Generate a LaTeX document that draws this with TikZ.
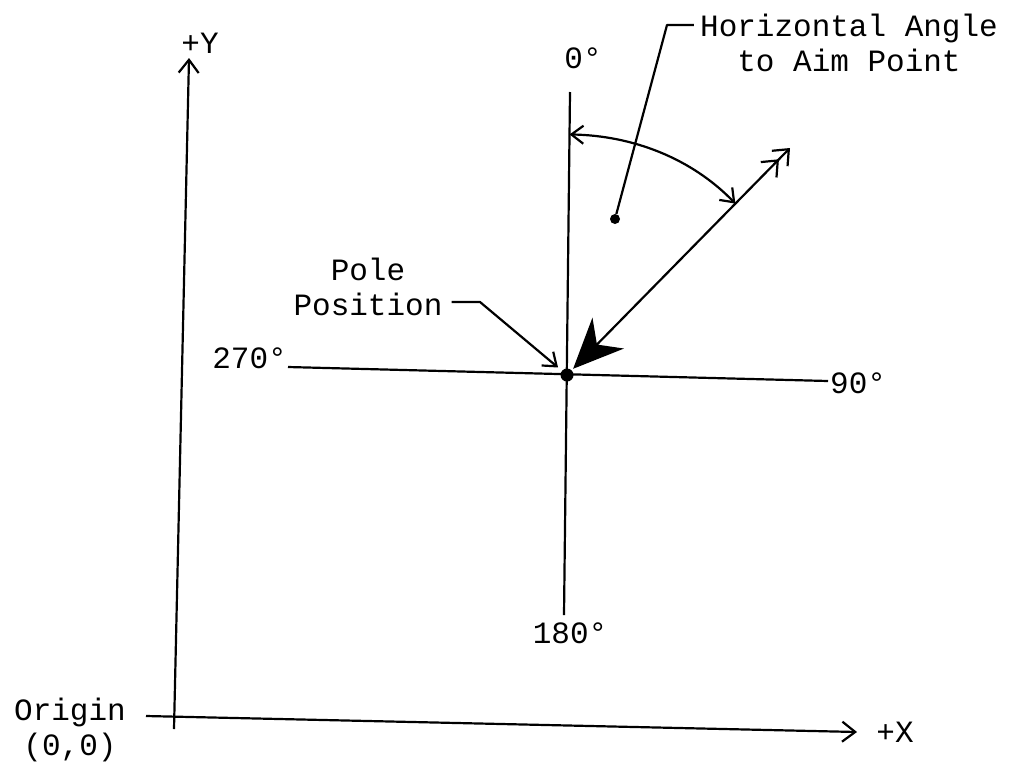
\documentclass[tikz,border=0pt]{standalone}
\usepackage{fontspec}
\setmonofont{Liberation Mono}
\usetikzlibrary{arrows.meta, calc}
\tikzset{
    ref_line/.style={line width=2.2pt, draw=black},
    axis_arrow/.style={ref_line, -{Straight Barb[length=13pt, width=20pt]}},
    leader_arrow/.style={ref_line, -{Straight Barb[length=12pt, width=18pt]}},
    angle_arrow/.style={ref_line, {Straight Barb[length=12pt, width=18pt]}-{Straight Barb[length=12pt, width=18pt]}},
    aim_arrow/.style={ref_line, {Straight Barb[length=13pt, width=22pt] Straight Barb[length=13pt, width=22pt]}-{Stealth[length=50pt, width=44pt, inset=16pt]}},
    base_node/.style={circle, inner sep=0pt, fill=black},
    pole_dot/.style={base_node, minimum size=13pt},
    aim_dot/.style={base_node, minimum size=10pt},
    label_text/.style={font=\fontsize{31}{35}\selectfont\ttfamily, text=black, inner sep=0pt, align=center}
}

\begin{document}
\begin{tikzpicture}[x=1pt, y=-1pt, line join=round]
\useasboundingbox (0,0) rectangle (1011,764);

% axes
\coordinate (x_start) at (146,716);
\coordinate (x_end)   at (857,732);
\coordinate (y_start) at (174,729);
\coordinate (y_end)   at (189,58);
\draw[axis_arrow] (x_start) -- (x_end);
\draw[axis_arrow] (y_start) -- (y_end);
\node[label_text] (lbl_x)      at (895,732) {+X};
\node[label_text] (lbl_y)      at (200,43)  {+Y};
\node[label_text] (lbl_origin) at (70,730)  {Origin\\(0,0)};

% pole and reference directions
\node[pole_dot] (pole) at (567,375) {};
\node[label_text, anchor=east] (deg270) at (287,358) {270°};
\node[label_text, anchor=west] (deg90)  at (830,383) {90°};
\node[label_text] (deg0)   at (583,58)  {0°};
\node[label_text] (deg180) at (570,633) {180°};

\coordinate (n_top) at (570,92);
\coordinate (s_bot) at (564,615);
\coordinate (w_end) at (288,367);
\coordinate (e_end) at (828,381);
\draw[ref_line] (n_top) -- (s_bot);
\draw[ref_line] (w_end) -- (e_end);

% aim direction and angle
\coordinate (aim) at (790,148);
\draw[aim_arrow, shorten >=2pt] (aim) -- (pole);
\coordinate (arc_a) at ($(pole)!0.85!(n_top)$);
\coordinate (arc_b) at ($(pole)!0.755!(aim)$);
\draw[angle_arrow] (arc_a) to[out=-1, in=134, looseness=0.9] (arc_b);

% callouts
\node[aim_dot] (angle_dot) at (615,219) {};
\node[label_text] (lbl_angle) at (849,43) {Horizontal Angle\\to Aim Point};
\coordinate (angle_bend) at (667,25);
\coordinate (angle_end) at ($(lbl_angle.west |- angle_bend)+(-6,0)$);
\draw[ref_line] (angle_dot) -- (angle_bend) -- (angle_end);

\node[label_text] (lbl_pole) at (368,287) {Pole\\Position};
\coordinate (pole_bend) at (480,302);
\coordinate (pole_start) at ($(lbl_pole.east |- pole_bend)+(9,0)$);
\draw[leader_arrow, shorten >=5pt] (pole_start) -- (pole_bend) -- (pole);

\end{tikzpicture}
\end{document}
